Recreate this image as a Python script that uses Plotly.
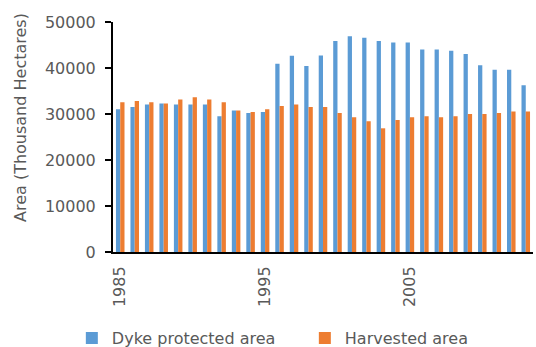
import plotly.graph_objects as go

years = list(range(1985, 2014))
dyke_protected = [31030, 31540, 32050, 32270, 32050, 32050, 32050, 29510, 30740, 30230,
                  30450, 40920, 42660, 40410, 42730, 45860, 46880, 46580, 45860, 45570,
                  45570, 44040, 44040, 43750, 43020, 40620, 39610, 39610, 36260]
harvested = [32560, 32850, 32560, 32270, 33140, 33650, 33140, 32560, 30740, 30450,
             31030, 31760, 32050, 31540, 31540, 30230, 29290, 28420, 26890, 28710,
             29290, 29510, 29290, 29510, 30010, 30010, 30230, 30520, 30520]
x_tick_labels = [1985, 1995, 2005]
y_tick_vals = [0, 10000, 20000, 30000, 40000, 50000]

FONT = "DejaVu Sans"
GRAY = "#595959"

fig = go.Figure()
fig.add_trace(go.Bar(x=years, y=dyke_protected, name="Dyke protected area",
                     marker=dict(color="#5B9BD5", line=dict(width=0))))
fig.add_trace(go.Bar(x=years, y=harvested, name="Harvested area",
                     marker=dict(color="#ED7D31", line=dict(width=0))))

fig.update_layout(
    width=536, height=347,
    margin=dict(l=113, r=3, t=22, b=95, autoexpand=False),
    paper_bgcolor="white", plot_bgcolor="white",
    barmode="group", bargap=0.41, bargroupgap=0,
    font=dict(family=FONT, size=16, color=GRAY),
    showlegend=True,
    legend=dict(orientation="h", x=-0.098, xanchor="left", y=-0.374, yanchor="middle",
                font=dict(family=FONT, size=16, color=GRAY),
                entrywidth=188, entrywidthmode="pixels",
                bgcolor="rgba(0,0,0,0)"),
    annotations=[dict(text="Area (Thousand Hectares)", textangle=-90,
                      xref="paper", yref="paper", x=-0.2214, y=0.5826,
                      xanchor="center", yanchor="middle", showarrow=False,
                      font=dict(family=FONT, size=16, color=GRAY))],
)
fig.update_xaxes(range=[1984.5, 2013.5], tickmode="array", tickvals=x_tick_labels,
                 ticktext=[str(v) for v in x_tick_labels], tickangle=-90,
                 showline=True, linecolor="black", linewidth=2, ticks="",
                 showgrid=False, zeroline=False, ticklabelstandoff=6, automargin=False,
                 tickfont=dict(family=FONT, size=16, color=GRAY))
fig.update_yaxes(range=[0, 50000], tickmode="array", tickvals=y_tick_vals,
                 ticktext=[str(v) for v in y_tick_vals],
                 showline=True, linecolor="black", linewidth=2, ticks="outside",
                 ticklen=6, tickwidth=2, tickcolor="black",
                 showgrid=False, zeroline=False, ticklabelstandoff=6, automargin=False,
                 tickfont=dict(family=FONT, size=16, color=GRAY))

fig.write_html("out.html")
